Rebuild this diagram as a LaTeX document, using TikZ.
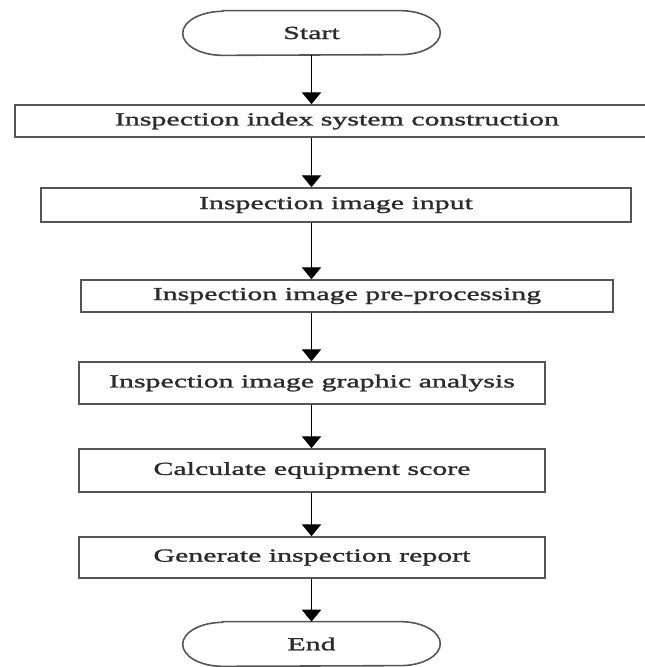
\documentclass[tikz,border=0pt]{standalone}
\usepackage{fontspec}
\setmainfont[FakeStretch=1.62,FakeBold=1.4]{Liberation Serif}
\usetikzlibrary{arrows.meta}
\definecolor{FlowLine}{HTML}{555555}
\definecolor{FlowText}{HTML}{2B2B2B}

\tikzset{
  stepbox/.style={draw=FlowLine,line width=.9pt,inner sep=0pt,text=FlowText,font=\fontsize{10.5}{12}\selectfont},
  termbox/.style={inner sep=0pt,text=FlowText,minimum width=5.14cm,minimum height=.88cm,font=\fontsize{10.5}{12}\selectfont},
  termline/.style={draw=FlowLine,line width=.9pt},
  flow/.style={line width=.8pt,-{Triangle[width=11pt,length=6.8pt]}}
}

\begin{document}
\begin{tikzpicture}[x=0.02cm,y=0.02cm]
\path[use as bounding box] (0,0) rectangle (645,667);
\fill[white] (0,0) rectangle (645,667);
\node[termbox] (start) at (311.5,634) {Start};
\node[stepbox,minimum width=12.88cm,minimum height=.64cm] (index) at (337,546) {Inspection index system construction};
\node[stepbox,minimum width=11.80cm,minimum height=.68cm] (input) at (336,462) {Inspection image input};
\node[stepbox,minimum width=10.64cm,minimum height=.64cm] (prep) at (347,371) {Inspection image pre-processing};
\node[stepbox,minimum width=9.32cm,minimum height=.84cm] (graphic) at (312,284) {Inspection image graphic analysis};
\node[stepbox,minimum width=9.32cm,minimum height=.86cm] (score) at (312,196.5) {Calculate equipment score};
\node[stepbox,minimum width=9.32cm,minimum height=.82cm] (report) at (312,109.5) {Generate inspection report};
\node[termbox] (end) at (311.5,23) {End};
% terminal outlines
\draw[termline] ([xshift=.8cm]start.north west) -- ([xshift=-.8cm]start.north east)
  arc[start angle=90,end angle=-90,x radius=.8cm,y radius=.44cm] -- ([xshift=.8cm]start.south west)
  arc[start angle=270,end angle=90,x radius=.8cm,y radius=.44cm] -- cycle;
\draw[termline] ([xshift=.8cm]end.north west) -- ([xshift=-.8cm]end.north east)
  arc[start angle=90,end angle=-90,x radius=.8cm,y radius=.44cm] -- ([xshift=.8cm]end.south west)
  arc[start angle=270,end angle=90,x radius=.8cm,y radius=.44cm] -- cycle;
% connectors
\draw[flow] (start.south) -- (start.south |- index.north);
\draw[flow] (index.south -| start) -- (input.north -| start);
\draw[flow] (input.south -| start) -- (prep.north -| start);
\draw[flow] (prep.south -| start) -- (graphic.north -| start);
\draw[flow] (graphic.south -| start) -- (score.north -| start);
\draw[flow] (score.south -| start) -- (report.north -| start);
\draw[flow] (report.south -| start) -- (end.north);
\end{tikzpicture}
\end{document}
